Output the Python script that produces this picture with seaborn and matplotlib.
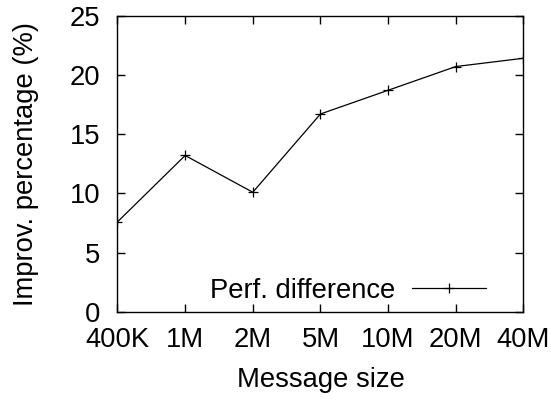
import matplotlib
matplotlib.use("Agg")
import matplotlib.pyplot as plt
import seaborn as sns
import pandas as pd

# Message sizes and measured improvement
sizes = ["400K", "1M", "2M", "5M", "10M", "20M", "40M"]
improvement = [7.6, 13.2, 10.1, 16.7, 18.7, 20.7, 21.4]
y_ticks = [0, 5, 10, 15, 20, 25]

sns.set_theme(style="white")
plt.rcParams["font.family"] = ["Liberation Sans", "DejaVu Sans"]
plt.rcParams["text.color"] = "black"
plt.rcParams["axes.labelcolor"] = "black"

FS = 19.7

df = pd.DataFrame({"size": sizes, "improvement": improvement})

fig = plt.figure(figsize=(5.51, 3.99), dpi=100)
ax = fig.add_axes([0.2132, 0.218, 0.7368, 0.743])

sns.lineplot(data=df, x="size", y="improvement", sort=False, ax=ax,
             color="black", linewidth=0.9, marker="+", markersize=6.5,
             markeredgewidth=0.9, markeredgecolor="black",
             label="Perf. difference")

ax.set_xlim(0, len(sizes) - 1)
ax.set_ylim(0, 25)
ax.set_yticks(y_ticks)
ax.set_xticks(range(len(sizes)))
ax.set_xticklabels(sizes)

for side in ["left", "right", "top", "bottom"]:
    ax.spines[side].set_color("black")
    ax.spines[side].set_linewidth(1.0)

ax.tick_params(axis="both", which="major", direction="in", length=6, width=1,
               color="black", labelsize=FS, labelcolor="black",
               top=True, right=True, bottom=True, left=True)
ax.tick_params(axis="x", pad=10.5)
ax.tick_params(axis="y", pad=12.5)

ax.set_xlabel("Message size", fontsize=FS, color="black", labelpad=10.5)
ax.set_ylabel("Improv. percentage (%)", fontsize=FS, color="black", labelpad=22)

ax.legend(loc="center right", bbox_to_anchor=(0.9076, 0.0708), frameon=False,
          markerfirst=False, handlelength=2.7, handletextpad=0.6,
          fontsize=FS, borderaxespad=0, borderpad=0)

fig.savefig("out.png", dpi=100)
